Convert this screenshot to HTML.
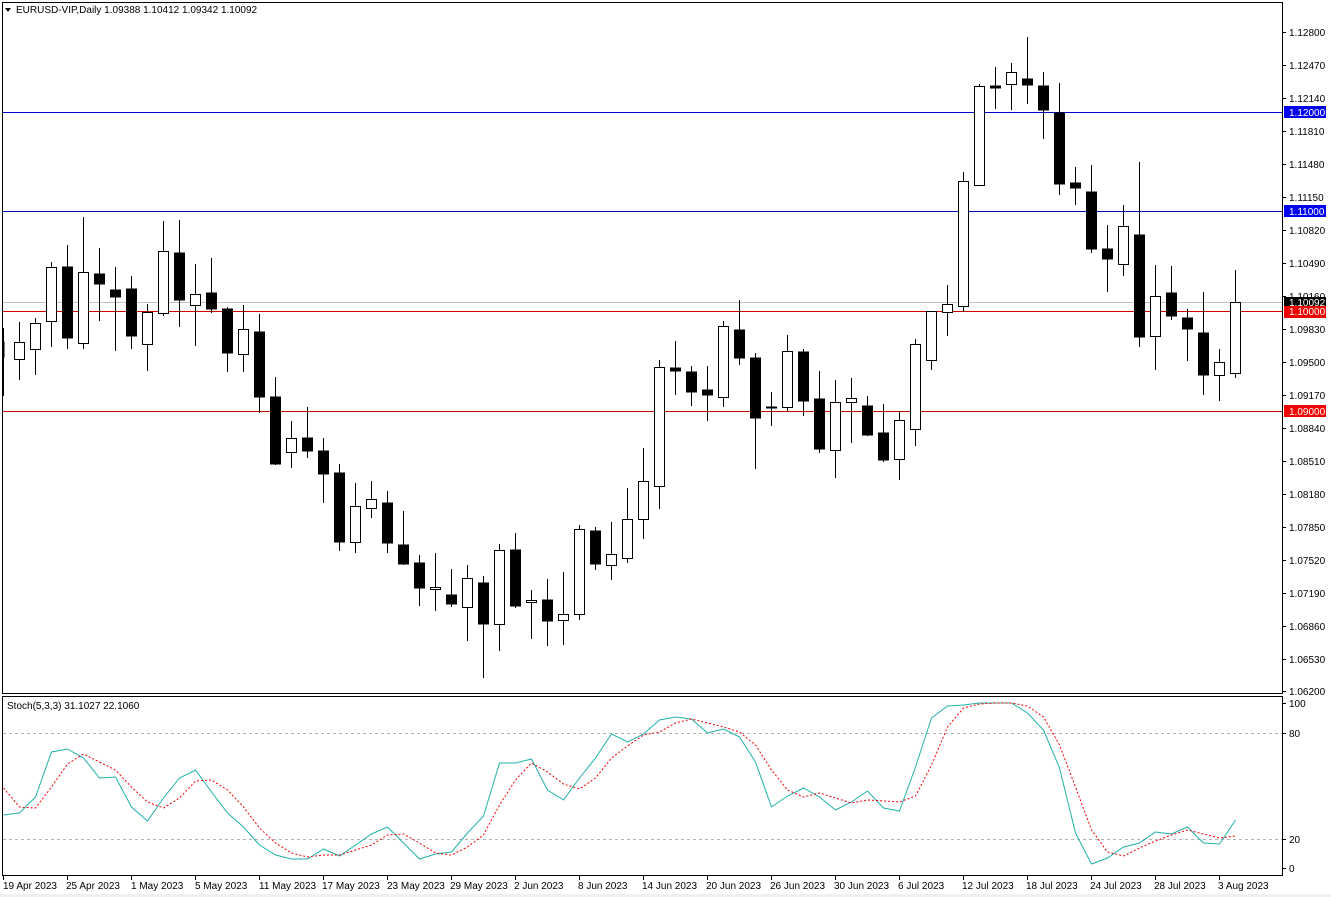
<!DOCTYPE html>
<html><head><meta charset="utf-8"><style>
html,body{margin:0;padding:0;background:#fff}
svg{display:block}
text{font-family:"Liberation Sans",sans-serif;font-size:10px;fill:#000}
</style></head><body>
<svg width="1331" height="897" viewBox="0 0 1331 897" xmlns="http://www.w3.org/2000/svg">
<rect x="0" y="0" width="1331" height="897" fill="#fff"/>
<!-- frames -->
<rect x="2.5" y="2.5" width="1280" height="691" fill="none" stroke="#000"/>
<rect x="2.5" y="696.5" width="1280" height="179" fill="none" stroke="#000"/>
<rect x="0" y="894" width="1331" height="3" fill="#f0f0f0"/>
<!-- horizontal levels -->
<line x1="3" y1="112.5" x2="1282" y2="112.5" stroke="#0000c8"/>
<line x1="3" y1="211.5" x2="1282" y2="211.5" stroke="#0000c8"/>
<line x1="3" y1="302.5" x2="1282" y2="302.5" stroke="#c0c0c0"/>
<line x1="3" y1="311.5" x2="1282" y2="311.5" stroke="#d00000"/>
<line x1="3" y1="411.5" x2="1282" y2="411.5" stroke="#d00000"/>
<!-- header -->
<path d="M5 8 L11 8 L8 12 Z" fill="#000"/>
<text x="16" y="13">EURUSD-VIP,Daily  1.09388 1.10412 1.09342 1.10092</text>
<!-- wicks -->
<path stroke="#000" stroke-width="1" fill="none" d="M3.5 328V396M19.5 322V380M35.5 318V375M51.5 262V347M67.5 245V349M83.5 217V349M99.5 248V321M115.5 267V351M131.5 276V349M147.5 304V371M163.5 221V316M179.5 220V327M195.5 264V346M211.5 258V313M227.5 307V372M243.5 305V372M259.5 314V413M275.5 377V465M291.5 421V468M307.5 407V458M323.5 438V503M339.5 464V551M355.5 483V553M371.5 481V518M387.5 491V553M403.5 511V565M419.5 555V606M435.5 553V611M451.5 569V607M467.5 565V641M483.5 576V678M499.5 544V651M515.5 533V608M531.5 590V639M547.5 579V646M563.5 572V645M579.5 525V620M595.5 527V570M611.5 522V580M627.5 488V563M643.5 448V539M659.5 360V509M675.5 341V395M691.5 366V406M707.5 366V421M723.5 321V407M739.5 300V365M755.5 353V469M771.5 392V426M787.5 335V411M803.5 349V416M819.5 371V453M835.5 380V478M851.5 378V443M867.5 396V436M883.5 404V462M899.5 411V480M915.5 339V446M931.5 311V370M947.5 285V336M963.5 172V312M979.5 84V185M995.5 67V109M1011.5 63V110M1027.5 37V104M1043.5 72V139M1059.5 83V195M1075.5 167V205M1091.5 165V253M1107.5 225V292M1123.5 205V276M1139.5 162V347M1155.5 265V370M1171.5 266V320M1187.5 309V361M1203.5 292V395M1219.5 349V401M1235.5 270V378"/>
<!-- black bodies -->
<g fill="#000" stroke="#000">
<rect x="3" y="342" width="1" height="15"/>
<rect x="62.5" y="267" width="10" height="71"/>
<rect x="94.5" y="274" width="10" height="10"/>
<rect x="110.5" y="290" width="10" height="7"/>
<rect x="126.5" y="289" width="10" height="47"/>
<rect x="174.5" y="253" width="10" height="47"/>
<rect x="206.5" y="293" width="10" height="16"/>
<rect x="222.5" y="309" width="10" height="44"/>
<rect x="254.5" y="332" width="10" height="65"/>
<rect x="270.5" y="397" width="10" height="67"/>
<rect x="302.5" y="438" width="10" height="13"/>
<rect x="318.5" y="451" width="10" height="23"/>
<rect x="334.5" y="473" width="10" height="69"/>
<rect x="382.5" y="503" width="10" height="40"/>
<rect x="398.5" y="545" width="10" height="19"/>
<rect x="414.5" y="563" width="10" height="25"/>
<rect x="446.5" y="595" width="10" height="9"/>
<rect x="478.5" y="583" width="10" height="41"/>
<rect x="510.5" y="550" width="10" height="56"/>
<rect x="542.5" y="600" width="10" height="21"/>
<rect x="590.5" y="531" width="10" height="33"/>
<rect x="670.5" y="368" width="10" height="3"/>
<rect x="686.5" y="372" width="10" height="20"/>
<rect x="702.5" y="390" width="10" height="5"/>
<rect x="734.5" y="330" width="10" height="28"/>
<rect x="750.5" y="358" width="10" height="60"/>
<rect x="766.5" y="407" width="10" height="1"/>
<rect x="798.5" y="352" width="10" height="49"/>
<rect x="814.5" y="399" width="10" height="50"/>
<rect x="862.5" y="406" width="10" height="29"/>
<rect x="878.5" y="433" width="10" height="27"/>
<rect x="990.5" y="86" width="10" height="2"/>
<rect x="1022.5" y="79" width="10" height="6"/>
<rect x="1038.5" y="86" width="10" height="24"/>
<rect x="1054.5" y="113" width="10" height="71"/>
<rect x="1070.5" y="183" width="10" height="5"/>
<rect x="1086.5" y="192" width="10" height="57"/>
<rect x="1102.5" y="249" width="10" height="10"/>
<rect x="1134.5" y="235" width="10" height="102"/>
<rect x="1166.5" y="293" width="10" height="23"/>
<rect x="1182.5" y="318" width="10" height="11"/>
<rect x="1198.5" y="333" width="10" height="42"/>
</g>
<!-- white bodies -->
<g fill="#fff" stroke="#000">
<rect x="14.5" y="342.5" width="10" height="17"/>
<rect x="30.5" y="323.5" width="10" height="26"/>
<rect x="46.5" y="267.5" width="10" height="54"/>
<rect x="78.5" y="272.5" width="10" height="71"/>
<rect x="142.5" y="312.5" width="10" height="32"/>
<rect x="158.5" y="251.5" width="10" height="62"/>
<rect x="190.5" y="294.5" width="10" height="11"/>
<rect x="238.5" y="329.5" width="10" height="25"/>
<rect x="286.5" y="438.5" width="10" height="14"/>
<rect x="350.5" y="506.5" width="10" height="36"/>
<rect x="366.5" y="499.5" width="10" height="9"/>
<rect x="430.5" y="587.5" width="10" height="2"/>
<rect x="462.5" y="578.5" width="10" height="29"/>
<rect x="494.5" y="550.5" width="10" height="74"/>
<rect x="526.5" y="600.5" width="10" height="2"/>
<rect x="558.5" y="614.5" width="10" height="6"/>
<rect x="574.5" y="529.5" width="10" height="85"/>
<rect x="606.5" y="554.5" width="10" height="11"/>
<rect x="622.5" y="519.5" width="10" height="39"/>
<rect x="638.5" y="481.5" width="10" height="38"/>
<rect x="654.5" y="367.5" width="10" height="119"/>
<rect x="718.5" y="326.5" width="10" height="71"/>
<rect x="782.5" y="351.5" width="10" height="56"/>
<rect x="830.5" y="402.5" width="10" height="48"/>
<rect x="846.5" y="398.5" width="10" height="4"/>
<rect x="894.5" y="420.5" width="10" height="39"/>
<rect x="910.5" y="344.5" width="10" height="85"/>
<rect x="926.5" y="311.5" width="10" height="49"/>
<rect x="942.5" y="304.5" width="10" height="8"/>
<rect x="958.5" y="181.5" width="10" height="125"/>
<rect x="974.5" y="86.5" width="10" height="99"/>
<rect x="1006.5" y="72.5" width="10" height="12"/>
<rect x="1118.5" y="226.5" width="10" height="38"/>
<rect x="1150.5" y="296.5" width="10" height="40"/>
<rect x="1214.5" y="362.5" width="10" height="13"/>
<rect x="1230.5" y="302.5" width="10" height="71"/>
</g>
<!-- price axis -->
<g stroke="#000">
<path d="M1282 32.5h4M1282 65.5h4M1282 98.5h4M1282 131.5h4M1282 164.5h4M1282 197.5h4M1282 230.5h4M1282 263.5h4M1282 296.5h4M1282 329.5h4M1282 362.5h4M1282 395.5h4M1282 428.5h4M1282 461.5h4M1282 494.5h4M1282 527.5h4M1282 560.5h4M1282 593.5h4M1282 626.5h4M1282 659.5h4M1282 691.5h4"/>
</g>
<g>
<text x="1289" y="36">1.12800</text>
<text x="1289" y="69">1.12470</text>
<text x="1289" y="102">1.12140</text>
<text x="1289" y="135">1.11810</text>
<text x="1289" y="168">1.11480</text>
<text x="1289" y="201">1.11150</text>
<text x="1289" y="234">1.10820</text>
<text x="1289" y="267">1.10490</text>
<text x="1289" y="300">1.10160</text>
<text x="1289" y="333">1.09830</text>
<text x="1289" y="366">1.09500</text>
<text x="1289" y="399">1.09170</text>
<text x="1289" y="432">1.08840</text>
<text x="1289" y="465">1.08510</text>
<text x="1289" y="498">1.08180</text>
<text x="1289" y="531">1.07850</text>
<text x="1289" y="564">1.07520</text>
<text x="1289" y="597">1.07190</text>
<text x="1289" y="630">1.06860</text>
<text x="1289" y="663">1.06530</text>
<text x="1289" y="695">1.06200</text>
</g>
<rect x="1284" y="106" width="42" height="12" fill="#0000f0"/>
<text x="1289" y="116" style="fill:#fff">1.12000</text>
<rect x="1284" y="205" width="42" height="12" fill="#0000f0"/>
<text x="1289" y="215" style="fill:#fff">1.11000</text>
<rect x="1284" y="297" width="42" height="11" fill="#000"/>
<text x="1289" y="306" style="fill:#fff">1.10092</text>
<rect x="1284" y="306" width="42" height="12" fill="#f00000"/>
<text x="1289" y="315" style="fill:#fff">1.10000</text>
<rect x="1284" y="405" width="42" height="12" fill="#f00000"/>
<text x="1289" y="415" style="fill:#fff">1.09000</text>
<!-- stochastic -->
<text x="7" y="709">Stoch(5,3,3) 31.1027 22.1060</text>
<line x1="3" y1="733.5" x2="1282" y2="733.5" stroke="#b4b4b4" stroke-dasharray="3,3"/>
<line x1="3" y1="839.5" x2="1282" y2="839.5" stroke="#b4b4b4" stroke-dasharray="3,3"/>
<polyline fill="none" stroke="#20b2aa" stroke-width="1" points="3.5,815 19.5,813 35.5,797 51.5,752 67.5,749 83.5,758 99.5,778 115.5,777 131.5,807 147.5,821 163.5,798 179.5,778 195.5,770 211.5,792 227.5,813 243.5,827 259.5,845 275.5,855 291.5,859 307.5,859 323.5,849 339.5,856 355.5,845 371.5,834 387.5,827 403.5,843 419.5,859 435.5,854 451.5,852 467.5,833 483.5,816 499.5,763 515.5,763 531.5,759 547.5,790 563.5,800 579.5,778 595.5,758 611.5,734 627.5,742 643.5,734 659.5,720 675.5,717 691.5,719 707.5,733 723.5,729 739.5,737 755.5,762 771.5,807 787.5,796 803.5,788 819.5,797 835.5,810 851.5,802 867.5,791 883.5,808 899.5,811 915.5,767 931.5,718 947.5,706 963.5,705 979.5,703 995.5,703 1011.5,703 1027.5,713 1043.5,730 1059.5,768 1075.5,833 1091.5,864 1107.5,858 1123.5,847 1139.5,843 1155.5,832 1171.5,834 1187.5,827 1203.5,843 1219.5,844 1235.5,820"/>
<polyline fill="none" stroke="#f00000" stroke-width="1" stroke-dasharray="2,2" points="3.5,788 19.5,807 35.5,808 51.5,787 67.5,764 83.5,754 99.5,762 115.5,770 131.5,787 147.5,802 163.5,808 179.5,798 195.5,781 211.5,780 227.5,790 243.5,807 259.5,828 275.5,843 291.5,853 307.5,857 323.5,855 339.5,855 355.5,850 371.5,845 387.5,835 403.5,834 419.5,843 435.5,853 451.5,855 467.5,847 483.5,835 499.5,805 515.5,780 531.5,763 547.5,772 563.5,784 579.5,789 595.5,778 611.5,758 627.5,746 643.5,735 659.5,732 675.5,723 691.5,719 707.5,723 723.5,727 739.5,732 755.5,745 771.5,770 787.5,790 803.5,797 819.5,793 835.5,798 851.5,803 867.5,800 883.5,801 899.5,802 915.5,796 931.5,765 947.5,727 963.5,708 979.5,704 995.5,703 1011.5,703 1027.5,706 1043.5,717 1059.5,745 1075.5,787 1091.5,830 1107.5,852 1123.5,856 1139.5,848 1155.5,841 1171.5,835 1187.5,830 1203.5,834 1219.5,838 1235.5,836"/>
<path stroke="#000" d="M1282 703.5h4M1282 733.5h4M1282 839.5h4M1282 868.5h4"/>
<text x="1289" y="707">100</text>
<text x="1289" y="737">80</text>
<text x="1289" y="843">20</text>
<text x="1289" y="872">0</text>
<!-- date axis -->
<path stroke="#000" d="M3.5 876v4M67.5 876v4M131.5 876v4M195.5 876v4M259.5 876v4M323.5 876v4M387.5 876v4M451.5 876v4M515.5 876v4M579.5 876v4M643.5 876v4M707.5 876v4M771.5 876v4M835.5 876v4M899.5 876v4M963.5 876v4M1027.5 876v4M1091.5 876v4M1155.5 876v4M1219.5 876v4"/>
<g>
<text x="3" y="889">19 Apr 2023</text>
<text x="66" y="889">25 Apr 2023</text>
<text x="131" y="889">1 May 2023</text>
<text x="195" y="889">5 May 2023</text>
<text x="259" y="889">11 May 2023</text>
<text x="322" y="889">17 May 2023</text>
<text x="387" y="889">23 May 2023</text>
<text x="450" y="889">29 May 2023</text>
<text x="514" y="889">2 Jun 2023</text>
<text x="578" y="889">8 Jun 2023</text>
<text x="642" y="889">14 Jun 2023</text>
<text x="706" y="889">20 Jun 2023</text>
<text x="770" y="889">26 Jun 2023</text>
<text x="834" y="889">30 Jun 2023</text>
<text x="898" y="889">6 Jul 2023</text>
<text x="962" y="889">12 Jul 2023</text>
<text x="1026" y="889">18 Jul 2023</text>
<text x="1090" y="889">24 Jul 2023</text>
<text x="1154" y="889">28 Jul 2023</text>
<text x="1218" y="889">3 Aug 2023</text>
</g>
</svg>
</body></html>
